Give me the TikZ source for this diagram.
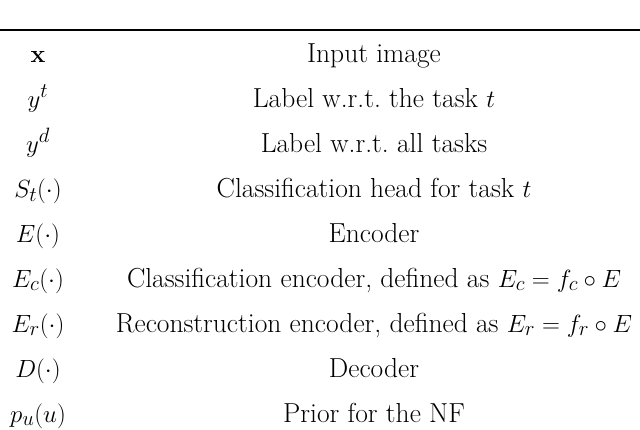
\documentclass[tikz,border=0pt]{standalone}
\usepackage{amsmath}
\begin{document}
\begin{tikzpicture}[x=1pt,y=-1pt,every node/.style={font=\fontsize{27.5}{32}\selectfont,inner sep=0pt,anchor=base}]
\useasboundingbox (0,0) rectangle (640,429);
\draw[line width=1.2pt] (0,30) -- (640,30);
\foreach \i/\a/\b in {0/{$\mathbf{x}$}/{Input image},
1/{$y^t$}/{Label w.r.t.\ the task $t$},
2/{$y^d$}/{Label w.r.t.\ all tasks},
3/{$S_t(\cdot)$}/{Classification head for task $t$},
4/{$E(\cdot)$}/{Encoder},
5/{$E_c(\cdot)$}/{Classification encoder, defined as $E_c=f_c\circ E$},
6/{$E_r(\cdot)$}/{Reconstruction encoder, defined as $E_r=f_r\circ E$},
7/{$D(\cdot)$}/{Decoder},
8/{$p_u(u)$}/{Prior for the NF}}{
\node (l\i) at (38,62+45*\i) {\a};
\node (r\i) at (374,62+45*\i) {\b};
}
\end{tikzpicture}
\end{document}
